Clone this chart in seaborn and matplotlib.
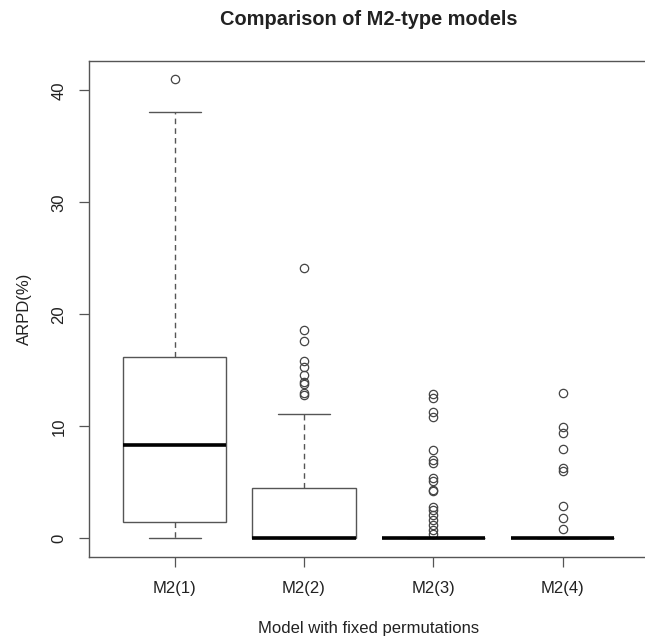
import pandas as pd
import matplotlib
matplotlib.use('Agg')
import matplotlib.pyplot as plt
import seaborn as sns

# Models and ARPD(%) values (zero-valued instances counted separately)
models = ['M2(1)', 'M2(2)', 'M2(3)', 'M2(4)']
zero_counts = [0, 25, 79, 91]
m21_values = [0.0, 0.5, 1.0, 1.43, 3.0, 5.5, 8.3, 10.5, 13.0, 16.2, 22.0, 38.1, 41.0]
m22_values = [0.3, 0.6, 0.9, 1.2, 1.6, 2.0, 2.4, 2.9, 3.3, 3.7, 4.1, 4.5, 7.5, 11.1,
              12.8, 13.0, 13.8, 14.0, 14.6, 15.3, 15.8, 17.6, 18.6, 24.1]
m23_values = [12.9, 12.5, 11.3, 10.8, 7.9, 7.0, 6.7, 5.4, 5.1, 4.3, 4.2, 2.8, 2.5,
              2.1, 1.6, 1.2, 0.7, 0.4]
m24_values = [13.0, 9.9, 9.4, 8.0, 6.3, 6.0, 2.9, 1.8, 0.8]
y_ticks = [0, 10, 20, 30, 40]


def build_frame():
    """Long-format table: one row per instance."""
    rows = []
    for name, zeros, vals in zip(models, zero_counts,
                                 [m21_values, m22_values, m23_values, m24_values]):
        for v in [0.0] * zeros + vals:
            rows.append({'model': name, 'arpd': v})
    return pd.DataFrame(rows)


def main():
    df = build_frame()

    sns.set_style('white')
    plt.rcParams['font.family'] = ['Liberation Sans', 'DejaVu Sans']
    text_col = '#222222'
    line_col = '#555555'

    fig = plt.figure(figsize=(6.45, 6.41), dpi=100)
    ax = fig.add_axes([89.3 / 645, (641 - 556.7) / 641, 558.6 / 645, 496.0 / 641])

    sns.boxplot(data=df, x='model', y='arpd', order=models, color='white',
                linecolor=line_col, linewidth=1.0, width=0.8, whis=1.5, ax=ax,
                whiskerprops=dict(linestyle=(0, (4, 3)), color=line_col),
                medianprops=dict(color='black', linewidth=2.6),
                flierprops=dict(marker='o', markersize=6, markerfacecolor='none',
                                markeredgecolor='#444444', markeredgewidth=0.9))

    ax.set_xlim(-0.66, 3.66)
    ax.set_ylim(-1.64, 42.64)
    ax.set_yticks(y_ticks)
    ax.set_yticklabels([str(t) for t in y_ticks], rotation=90, va='center')

    for side in ['left', 'right', 'top', 'bottom']:
        ax.spines[side].set_visible(True)
        ax.spines[side].set_color(line_col)
        ax.spines[side].set_linewidth(1.0)

    ax.tick_params(axis='both', which='major', length=7.5, width=0.9,
                   color=line_col, labelsize=12, labelcolor=text_col,
                   left=True, bottom=True)
    ax.tick_params(axis='y', pad=9)
    ax.tick_params(axis='x', pad=10)

    ax.set_title('Comparison of M2-type models', fontsize=14.4, fontweight='bold',
                 color=text_col, pad=25.5)
    ax.set_xlabel('Model with fixed permutations', fontsize=12, color=text_col, labelpad=18)
    ax.set_ylabel('ARPD(%)', fontsize=12, color=text_col, labelpad=14)

    fig.savefig('out.png', dpi=100)


if __name__ == '__main__':
    main()
